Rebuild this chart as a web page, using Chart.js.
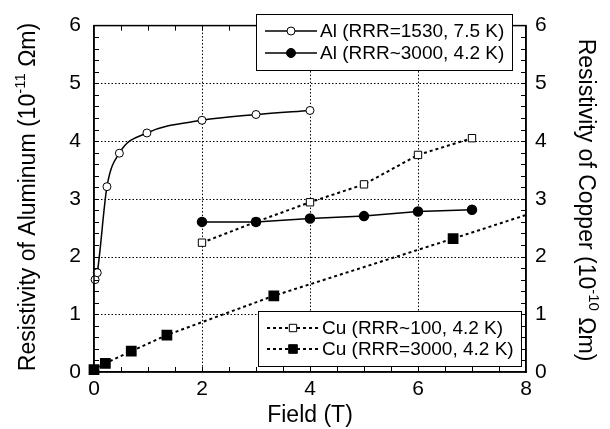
<!DOCTYPE html>
<html>
<head>
<meta charset="utf-8">
<script src="https://cdn.jsdelivr.net/npm/chart.js@4.4.0/dist/chart.umd.min.js"></script>
<style>
  html, body { margin: 0; padding: 0; background: #fff; }
</style>
</head>
<body>
<canvas id="chart" width="610" height="429"></canvas>
<script>
// values
const alOpenField = [0.02, 0.06, 0.24, 0.47, 0.98, 2, 3, 4];
const alOpenRes = [1.60, 1.72, 3.21, 3.79, 4.14, 4.36, 4.46, 4.53];
const alFilledField = [2, 3, 4, 5, 6, 7];
const alFilledRes = [2.60, 2.60, 2.66, 2.70, 2.78, 2.81];
const cu100Field = [2, 3, 4, 5, 6, 7];
const cu100Res = [2.24, 2.60, 2.94, 3.25, 3.76, 4.05];
const cu3000Field = [0, 0.21, 0.69, 1.35, 3.33, 6.65, 8];
const cu3000Res = [0.04, 0.15, 0.36, 0.64, 1.32, 2.31, 2.72];
const seriesLabels = ['Al (RRR=1530, 7.5 K)', 'Al (RRR~3000, 4.2 K)', 'Cu (RRR~100, 4.2 K)', 'Cu (RRR=3000, 4.2 K)'];
const fieldTicks = [0, 2, 4, 6, 8];
const resTicks = [0, 1, 2, 3, 4, 5, 6];

const FONT = '"Liberation Sans", Arial, Helvetica, sans-serif';

function pts(xs, ys) {
    return xs.map((x, i) => ({x: x, y: ys[i]}));
}

function drawMarker(ctx, style, filled, x, y, r) {
    ctx.save();
    ctx.fillStyle = filled ? '#000' : '#fff';
    ctx.strokeStyle = '#000';
    ctx.lineWidth = 1;
    ctx.setLineDash([]);
    ctx.beginPath();
    if (style === 'circle') {
        ctx.arc(x, y, r, 0, Math.PI * 2);
    } else {
        ctx.rect(x - r, y - r, r * 2, r * 2);
    }
    ctx.fill();
    ctx.stroke();
    ctx.restore();
}

function drawLegendBox(ctx, box, rows) {
    ctx.save();
    ctx.fillStyle = '#fff';
    ctx.fillRect(box.x, box.y, box.w, box.h);
    ctx.strokeStyle = '#000';
    ctx.lineWidth = 1;
    ctx.strokeRect(box.x + 0.5, box.y + 0.5, box.w, box.h);
    rows.forEach(function(row) {
        ctx.beginPath();
        ctx.lineWidth = row.dashed ? 2 : 1.5;
        ctx.setLineDash(row.dashed ? [3, 3] : []);
        ctx.moveTo(box.x + 9, row.y);
        ctx.lineTo(box.x + 61, row.y);
        ctx.stroke();
        drawMarker(ctx, row.style, row.filled, box.x + 35, row.y, row.r);
        ctx.fillStyle = '#000';
        ctx.font = '19px ' + FONT;
        ctx.textBaseline = 'middle';
        ctx.textAlign = 'left';
        ctx.fillText(row.text, box.x + 64, row.y + 1);
    });
    ctx.restore();
}

function drawAxisTitle(ctx, cx, cy, angle, before, sup, after) {
    ctx.save();
    ctx.translate(cx, cy);
    ctx.rotate(angle);
    ctx.fillStyle = '#000';
    ctx.textBaseline = 'middle';
    ctx.textAlign = 'left';
    const big = '23px ' + FONT, small = '15px ' + FONT;
    ctx.font = big;
    const w1 = ctx.measureText(before).width;
    const w3 = ctx.measureText(after).width;
    ctx.font = small;
    const w2 = ctx.measureText(sup).width;
    let x = -(w1 + w2 + w3) / 2;
    ctx.font = big;
    ctx.fillText(before, x, 0);
    x += w1;
    ctx.font = small;
    ctx.fillText(sup, x, -8);
    x += w2;
    ctx.font = big;
    ctx.fillText(after, x, 0);
    ctx.restore();
}

const decor = {
    id: 'decor',
    beforeDatasetsDraw(chart) {
        // dotted grid at the major ticks
        const ctx = chart.ctx;
        const a = chart.chartArea;
        const xs = chart.scales.x, ys = chart.scales.y;
        ctx.save();
        ctx.strokeStyle = '#000';
        ctx.lineWidth = 1;
        ctx.setLineDash([1.5, 2]);
        ctx.beginPath();
        fieldTicks.slice(1, -1).forEach(function(v) {
            const px = Math.round(xs.getPixelForValue(v)) + 0.5;
            ctx.moveTo(px, a.top); ctx.lineTo(px, a.bottom);
        });
        resTicks.slice(1, -1).forEach(function(v) {
            const py = Math.round(ys.getPixelForValue(v)) + 0.5;
            ctx.moveTo(a.left, py); ctx.lineTo(a.right, py);
        });
        ctx.stroke();
        ctx.restore();
    },
    afterDraw(chart) {
        const ctx = chart.ctx;
        const a = chart.chartArea;
        const xs = chart.scales.x, ys = chart.scales.y;
        ctx.save();
        // frame
        ctx.strokeStyle = '#000';
        ctx.lineWidth = 1.5;
        ctx.strokeRect(a.left, a.top, a.right - a.left, a.bottom - a.top);
        // inward ticks
        ctx.lineWidth = 1;
        ctx.beginPath();
        for (let v = 0.5; v < 8; v += 0.5) {
            const px = Math.round(xs.getPixelForValue(v)) + 0.5;
            ctx.moveTo(px, a.bottom); ctx.lineTo(px, a.bottom - 5);
            ctx.moveTo(px, a.top); ctx.lineTo(px, a.top + 5);
        }
        for (let i = 1; i < 30; i++) {
            const py = Math.round(ys.getPixelForValue(i * 0.2)) + 0.5;
            ctx.moveTo(a.left, py); ctx.lineTo(a.left + 5, py);
            ctx.moveTo(a.right, py); ctx.lineTo(a.right - 5, py);
        }
        ctx.stroke();
        ctx.restore();

        drawLegendBox(ctx, {x: 256, y: 14, w: 256, h: 56}, [
            {y: 31, style: 'circle', filled: false, r: 4, dashed: false, text: seriesLabels[0]},
            {y: 53, style: 'circle', filled: true, r: 4.5, dashed: false, text: seriesLabels[1]}
        ]);
        drawLegendBox(ctx, {x: 258, y: 311, w: 263, h: 55}, [
            {y: 328, style: 'rect', filled: false, r: 3.7, dashed: true, text: seriesLabels[2]},
            {y: 349, style: 'rect', filled: true, r: 4.3, dashed: true, text: seriesLabels[3]}
        ]);

        drawAxisTitle(ctx, 29, 197, -Math.PI / 2, 'Resistivity of Aluminum (10', '-11', ' \u03A9m)');
        drawAxisTitle(ctx, 585, 200, Math.PI / 2, 'Resistivity of Copper (10', '-10', ' \u03A9m)');
    }
};

const tickFont = {family: FONT, size: 21};

new Chart(document.getElementById('chart'), {
    type: 'scatter',
    data: {
        datasets: [{
            label: seriesLabels[0],
            data: pts(alOpenField, alOpenRes),
            yAxisID: 'y',
            showLine: true,
            cubicInterpolationMode: 'monotone',
            borderColor: '#000',
            borderWidth: 1.5,
            pointStyle: 'circle',
            pointRadius: 4,
            pointBorderWidth: 1,
            pointBackgroundColor: '#fff',
            pointBorderColor: '#000',
            clip: false
        }, {
            label: seriesLabels[1],
            data: pts(alFilledField, alFilledRes),
            yAxisID: 'y',
            showLine: true,
            borderColor: '#000',
            borderWidth: 1.5,
            pointStyle: 'circle',
            pointRadius: 4.5,
            pointBackgroundColor: '#000',
            pointBorderColor: '#000',
            clip: false
        }, {
            label: seriesLabels[2],
            data: pts(cu100Field, cu100Res),
            yAxisID: 'y2',
            showLine: true,
            borderColor: '#000',
            borderWidth: 2,
            borderDash: [3, 3],
            pointStyle: 'rect',
            pointRadius: 5.2,
            pointBorderWidth: 1,
            pointBackgroundColor: '#fff',
            pointBorderColor: '#000',
            clip: false
        }, {
            label: seriesLabels[3],
            data: pts(cu3000Field, cu3000Res),
            yAxisID: 'y2',
            showLine: true,
            borderColor: '#000',
            borderWidth: 2,
            borderDash: [3, 3],
            pointStyle: 'rect',
            pointRadius: cu3000Field.map((f, i) => i === cu3000Field.length - 1 ? 0 : 6.2),
            pointBackgroundColor: '#000',
            pointBorderColor: '#000',
            clip: false
        }]
    },
    options: {
        responsive: false,
        animation: false,
        devicePixelRatio: 1,
        layout: {padding: {top: 22, left: 0, right: 0, bottom: 0}},
        plugins: {legend: {display: false}, tooltip: {enabled: false}},
        scales: {
            x: {
                type: 'linear', min: 0, max: 8,
                afterBuildTicks: s => { s.ticks = fieldTicks.map(v => ({value: v})); },
                afterFit: s => { s.height = 57; },
                ticks: {font: tickFont, color: '#000', padding: 5, maxRotation: 0},
                grid: {display: false, drawTicks: false},
                border: {display: true, color: '#000', width: 1.5},
                title: {display: true, text: 'Field (T)', color: '#000', font: {family: FONT, size: 23}, padding: 0}
            },
            y: {
                type: 'linear', position: 'left', min: 0, max: 6,
                afterBuildTicks: s => { s.ticks = resTicks.map(v => ({value: v})); },
                afterFit: s => { s.width = 94; },
                ticks: {font: tickFont, color: '#000', padding: 13},
                grid: {display: false, drawTicks: false},
                border: {display: true, color: '#000', width: 1.5}
            },
            y2: {
                type: 'linear', position: 'right', min: 0, max: 6,
                afterBuildTicks: s => { s.ticks = resTicks.map(v => ({value: v})); },
                afterFit: s => { s.width = 84; },
                ticks: {font: tickFont, color: '#000', padding: 9},
                grid: {display: false, drawTicks: false},
                border: {display: true, color: '#000', width: 1.5}
            }
        }
    },
    plugins: [decor]
});
</script>
</body>
</html>
